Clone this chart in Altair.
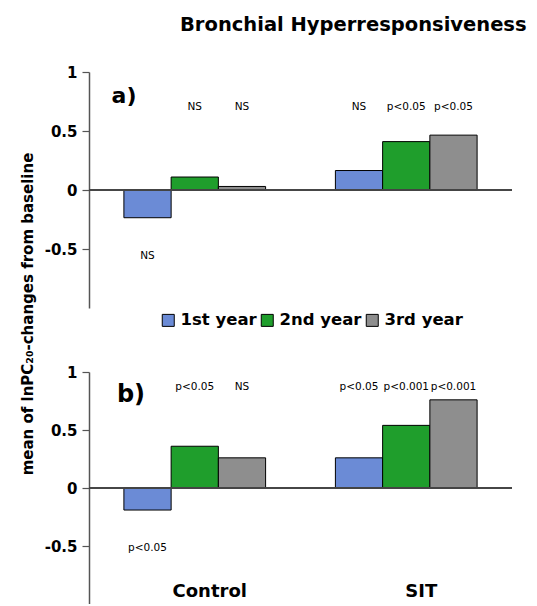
import altair as alt
import pandas as pd

groups = ["Control", "SIT"]
years = ["1st year", "2nd year", "3rd year"]
colors = ["#6b8bd6", "#1f9e2c", "#8e8e8e"]

# panel a) values (mean lnPC20 change from baseline)
a_control = [-0.235, 0.11, 0.03]
a_sit = [0.165, 0.41, 0.465]
a_control_sig = ["NS", "NS", "NS"]
a_sit_sig = ["NS", "p<0.05", "p<0.05"]

# panel b) values
b_control = [-0.19, 0.36, 0.26]
b_sit = [0.26, 0.54, 0.76]
b_control_sig = ["p<0.05", "p<0.05", "NS"]
b_sit_sig = ["p<0.05", "p<0.001", "p<0.001"]

title_text = "Bronchial Hyperresponsiveness"
y_title = "mean of lnPC\u2082\u2080-changes from baseline"

FONT = "DejaVu Sans"
W = 423


def make_df(control, sit, csig, ssig, above, below):
    rows = []
    for g, vals, sigs in (("Control", control, csig), ("SIT", sit, ssig)):
        for yr, v, s in zip(years, vals, sigs):
            rows.append({"group": g, "year": yr, "value": v, "sig": s,
                         "lvl": above if v >= 0 else below})
    return pd.DataFrame(rows)


df_a = make_df(a_control, a_sit, a_control_sig, a_sit_sig, 0.7, -0.56)
df_b = make_df(b_control, b_sit, b_control_sig, b_sit_sig, 0.87, -0.52)

xenc = alt.X("group:N", sort=groups,
             scale=alt.Scale(paddingInner=0.33, paddingOuter=0.165), axis=None)
xoff = alt.XOffset("year:N", sort=years,
                   scale=alt.Scale(paddingInner=0, paddingOuter=0))
yscale = alt.Scale(domain=[-1, 1], nice=False)
yaxis = alt.Axis(values=[1, 0.5, 0, -0.5], labelExpr="toString(datum.value)",
                 title=None, grid=False, domainColor="#555", domainWidth=1.5,
                 tickColor="#555", tickSize=7, tickWidth=1.2, labelPadding=5,
                 labelFont=FONT, labelFontSize=15, labelFontWeight="bold",
                 labelColor="black")
color = alt.Color("year:N", sort=years,
                  scale=alt.Scale(domain=years, range=colors),
                  legend=alt.Legend(orient="none", legendX=71, legendY=240,
                                    direction="horizontal", title=None,
                                    symbolType="square", symbolSize=144,
                                    symbolStrokeColor="black",
                                    symbolStrokeWidth=1, symbolOpacity=1,
                                    labelFont=FONT, labelFontSize=16.5,
                                    labelFontWeight="bold", labelColor="black",
                                    labelOffset=4, columnPadding=2))


def panel(df, h, tag, tag_x, tag_y, tag_size, extra):
    base = alt.Chart(df)
    bars = base.mark_bar(stroke="black", strokeWidth=1).encode(
        x=xenc, xOffset=xoff,
        y=alt.Y("value:Q", scale=yscale, axis=yaxis), y2=alt.datum(0),
        color=color)
    zero = base.mark_rule(color="#444", strokeWidth=1.2).encode(
        y=alt.Y("zero:Q", scale=yscale, axis=yaxis),
        x=alt.value(0), x2=alt.value(W)).transform_calculate(zero="0")
    ann = base.mark_text(font=FONT, fontSize=10.5, color="black",
                         baseline="middle").encode(
        x=xenc, xOffset=xoff, y=alt.Y("lvl:Q", scale=yscale, axis=yaxis),
        text="sig:N")
    tg = alt.Chart(pd.DataFrame({"t": [tag]})).mark_text(
        font=FONT, fontSize=tag_size, fontWeight="bold", color="black",
        align="center", baseline="middle").encode(
        x=alt.value(tag_x), y=alt.value(tag_y), text="t:N")
    return alt.layer(bars, zero, ann, tg, *extra).properties(width=W, height=h)


title_mark = alt.Chart(pd.DataFrame({"t": [title_text]})).mark_text(
    font=FONT, fontSize=19.5, fontWeight="bold", color="black",
    align="left", baseline="alphabetic").encode(
    x=alt.value(91), y=alt.value(-41), text="t:N")
ytitle_mark = alt.Chart(pd.DataFrame({"t": [y_title]})).mark_text(
    font=FONT, fontSize=15, fontWeight="bold", color="black", angle=270,
    align="center", baseline="middle").encode(
    x=alt.value(-61), y=alt.value(242), text="t:N")
cat_mark = alt.Chart(pd.DataFrame({"group": groups})).mark_text(
    font=FONT, fontSize=18, fontWeight="bold", color="black",
    align="center", baseline="middle", dx=15).encode(
    x=xenc, y=alt.value(220), text="group:N")

pa = panel(df_a, 236, "a)", 35, 24, 22, [title_mark, ytitle_mark])
pb = panel(df_b, 232, "b)", 42, 23, 24, [cat_mark])

chart = alt.vconcat(pa, pb, spacing=64, bounds="flush").properties(
    padding={"left": 12, "top": 7, "right": 0, "bottom": 0},
    background="white",
).configure(font=FONT).configure_view(strokeWidth=0, stroke=None)

chart.save("out.html", embed_options={"renderer": "svg", "actions": False})
